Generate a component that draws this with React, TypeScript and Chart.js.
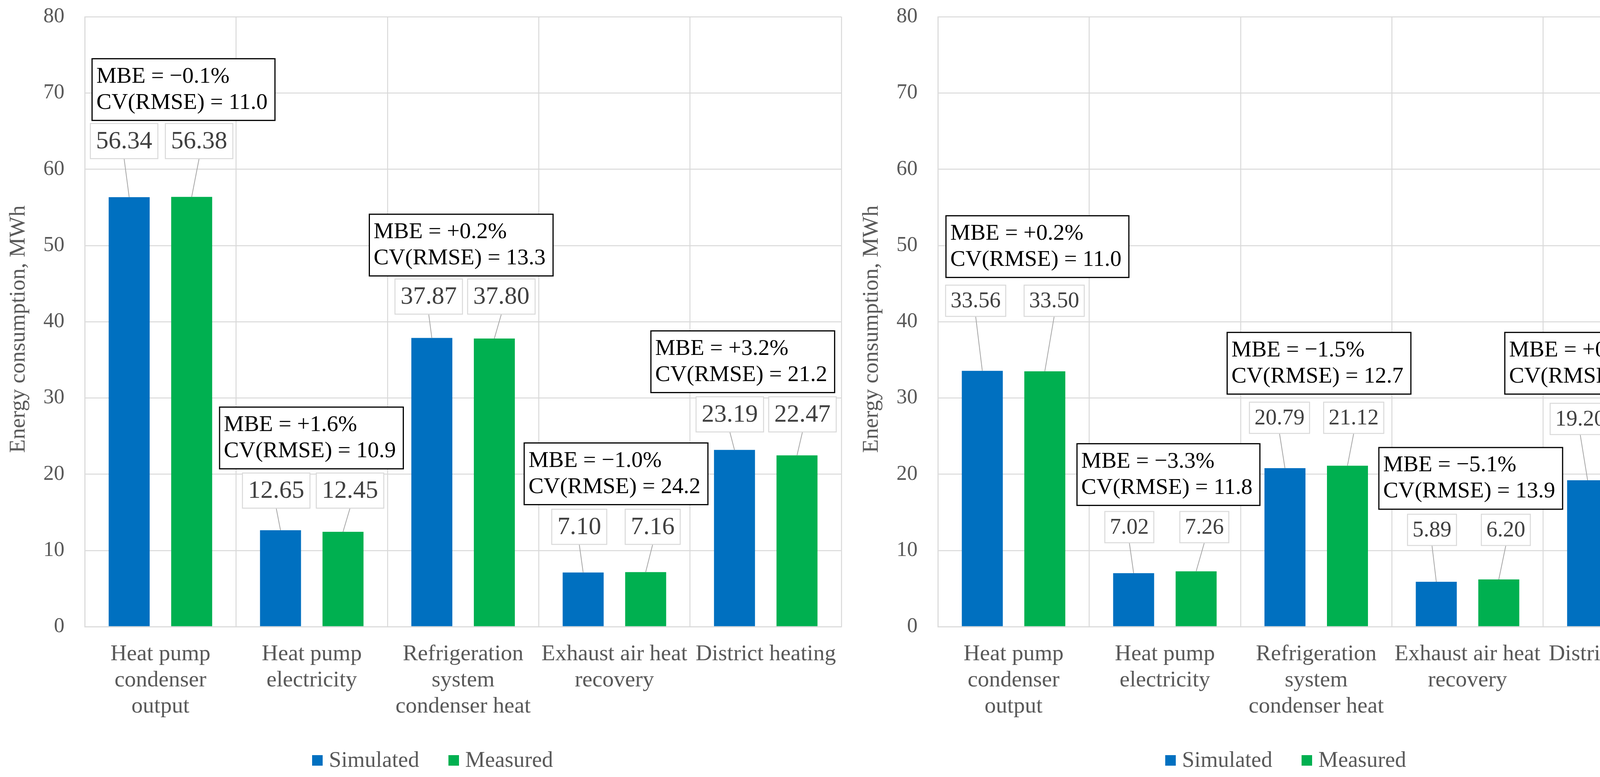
import React, { useEffect, useRef } from "react";
import { Chart, registerables } from "chart.js";

Chart.register(...registerables);

// ---------- data ----------
const categories: string[][] = [
  ["Heat pump", "condenser", "output"],
  ["Heat pump", "electricity"],
  ["Refrigeration", "system", "condenser heat"],
  ["Exhaust air heat", "recovery"],
  ["District heating"],
];
const seriesNames = ["Simulated", "Measured"];
const yMin = 0;
const yMax = 80;
const yStep = 10;
const yTitle = "Energy consumption, MWh";

const leftSimulated = [56.34, 12.65, 37.87, 7.1, 23.19];
const leftMeasured = [56.38, 12.45, 37.8, 7.16, 22.47];
const leftMBE = ["\u22120.1%", "+1.6%", "+0.2%", "\u22121.0%", "+3.2%"];
const leftCV = ["11.0", "10.9", "13.3", "24.2", "21.2"];

const rightSimulated = [33.56, 7.02, 20.79, 5.89, 19.2];
const rightMeasured = [33.5, 7.26, 21.12, 6.2, 19.09];
const rightMBE = ["+0.2%", "\u22123.3%", "\u22121.5%", "\u22125.1%", "+0.6%"];
const rightCV = ["11.0", "11.8", "12.7", "13.9", "18.2"];

// ---------- annotation placement (value units for y, px offsets for x) ----------
const leftLabelY = [63.7, 17.85, 43.3, 13.1, 27.85];
const leftLabelDx = [[-13, 19], [-11, 18], [-8, 18], [-10, 18], [-12, 14]];
const leftMbeTop = [74.5, 28.8, 54.1, 24.1, 38.8];
const leftMbeDx = [-175, -236, -240, -231, -294];

const rightLabelY = [42.75, 13.06, 27.4, 12.7, 27.25];
const rightLabelDx = [[-17, 24], [-11, 21], [-14, 16], [-11, 18], [-19, 17]];
const rightMbeTop = [53.9, 24.0, 38.6, 23.5, 38.6];
const rightMbeDx = [-173, -225, -228, -227, -292];

const FONT = '"Liberation Serif", "Times New Roman", serif';
const BLUE = "#0070C0";
const GREEN = "#00B050";
const GRID = "#D9D9D9";
const TEXT = "#595959";

type PanelProps = {
  simulated: number[];
  measured: number[];
  mbe: string[];
  cv: string[];
  labelY: number[];
  labelDx: number[][];
  mbeTop: number[];
  mbeDx: number[];
  labelFont: number;
  labelBoxH: number;
};

function ChartPanel(p: PanelProps) {
  const ref = useRef<HTMLCanvasElement | null>(null);
  useEffect(() => {
    if (!ref.current) return;
    const annotPlugin = {
      id: "annot",
      afterDatasetsDraw(chart: any) {
        const ctx = chart.ctx;
        const yS = chart.scales.y;
        const metas = [chart.getDatasetMeta(0), chart.getDatasetMeta(1)];
        const values = [p.simulated, p.measured];
        ctx.save();
        // data labels
        for (let s = 0; s < 2; s++) {
          for (let i = 0; i < values[s].length; i++) {
            const bar = metas[s].data[i];
            const txt = values[s][i].toFixed(2);
            ctx.font = `${p.labelFont}px ${FONT}`;
            const w = ctx.measureText(txt).width + p.labelFont * 0.45;
            const h = p.labelBoxH;
            const cx = bar.x + p.labelDx[i][s];
            const cy = yS.getPixelForValue(p.labelY[i]);
            // leader line
            ctx.strokeStyle = "#A6A6A6";
            ctx.lineWidth = 2;
            ctx.beginPath();
            ctx.moveTo(cx, cy + h / 2);
            ctx.lineTo(bar.x, bar.y);
            ctx.stroke();
            ctx.fillStyle = "#FFFFFF";
            ctx.fillRect(cx - w / 2, cy - h / 2, w, h);
            ctx.strokeStyle = GRID;
            ctx.lineWidth = 2.5;
            ctx.strokeRect(cx - w / 2, cy - h / 2, w, h);
            ctx.fillStyle = "#404040";
            ctx.textAlign = "center";
            ctx.textBaseline = "middle";
            ctx.fillText(txt, cx, cy + 2);
          }
        }
        // MBE boxes
        const xS = chart.scales.x;
        for (let i = 0; i < p.mbe.length; i++) {
          const cx = xS.getPixelForValue(i);
          const left = cx + p.mbeDx[i];
          const top = yS.getPixelForValue(p.mbeTop[i]);
          ctx.font = `58px ${FONT}`;
          const l1 = `MBE = ${p.mbe[i]}`;
          const l2 = `CV(RMSE) = ${p.cv[i]}`;
          const w = Math.max(ctx.measureText(l1).width, ctx.measureText(l2).width) + 30;
          const h = 158;
          ctx.fillStyle = "#FFFFFF";
          ctx.fillRect(left, top, w, h);
          ctx.strokeStyle = "#000000";
          ctx.lineWidth = 3;
          ctx.strokeRect(left, top, w, h);
          ctx.fillStyle = "#000000";
          ctx.textAlign = "left";
          ctx.textBaseline = "middle";
          ctx.fillText(l1, left + 11, top + 46);
          ctx.fillText(l2, left + 11, top + 113);
        }
        ctx.restore();
      },
      afterDraw(chart: any) {
        const ctx = chart.ctx;
        const area = chart.chartArea;
        ctx.save();
        // y-axis title
        ctx.font = `57px ${FONT}`;
        ctx.fillStyle = TEXT;
        ctx.textAlign = "center";
        ctx.textBaseline = "middle";
        ctx.translate(48, (area.top + area.bottom) / 2 + 19);
        ctx.rotate(-Math.PI / 2);
        ctx.fillText(yTitle, 0, 0);
        ctx.restore();
        // legend
        ctx.save();
        ctx.font = `57px ${FONT}`;
        ctx.textBaseline = "middle";
        ctx.textAlign = "left";
        const ly = 1947;
        const colors = [BLUE, GREEN];
        const boxX = [799, 1148];
        for (let s = 0; s < 2; s++) {
          ctx.fillStyle = colors[s];
          ctx.fillRect(boxX[s], ly - 13, 27, 27);
          ctx.fillStyle = TEXT;
          ctx.fillText(seriesNames[s], boxX[s] + 43, ly + 2);
        }
        ctx.restore();
      },
    };

    const chart = new Chart(ref.current, {
      type: "bar",
      data: {
        labels: categories,
        datasets: [
          { label: seriesNames[0], data: p.simulated, backgroundColor: BLUE, categoryPercentage: 0.826, barPercentage: 0.656 },
          { label: seriesNames[1], data: p.measured, backgroundColor: GREEN, categoryPercentage: 0.826, barPercentage: 0.656 },
        ],
      },
      options: {
        responsive: false,
        animation: false,
        devicePixelRatio: 1,
        layout: { padding: { top: 43, right: 30, left: 0, bottom: 0 } },
        plugins: { legend: { display: false }, tooltip: { enabled: false }, title: { display: false } },
        scales: {
          x: {
            afterFit(scale: any) {
              scale.height = 385;
              scale.paddingLeft = 0;
              scale.paddingRight = 0;
            },
            grid: { color: GRID, lineWidth: 2.5, offset: true, drawTicks: false },
            border: { color: GRID, width: 2.5 },
            ticks: {
              color: TEXT,
              font: { family: FONT, size: 58, lineHeight: 1.16 },
              padding: 37,
              maxRotation: 0,
              autoSkip: false,
            },
          },
          y: {
            min: yMin,
            max: yMax,
            afterFit(scale: any) {
              scale.width = 217;
              scale.paddingTop = 0;
              scale.paddingBottom = 0;
            },
            grid: { color: GRID, lineWidth: 2.5, drawTicks: false },
            border: { color: GRID, width: 2.5 },
            ticks: {
              stepSize: yStep,
              color: TEXT,
              font: { family: FONT, size: 54 },
              padding: 52,
            },
          },
        },
      },
      plugins: [annotPlugin],
    } as any);
    return () => chart.destroy();
  }, []);
  return <canvas ref={ref} width={2184} height={1990} style={{ width: 2184, height: 1990, display: "block" }} />;
}

export default function App() {
  return (
    <div style={{ position: "fixed", left: 0, top: 0, width: 4368, height: 1990, display: "flex", background: "#FFFFFF" }}>
      <ChartPanel
        simulated={leftSimulated}
        measured={leftMeasured}
        mbe={leftMBE}
        cv={leftCV}
        labelY={leftLabelY}
        labelDx={leftLabelDx}
        mbeTop={leftMbeTop}
        mbeDx={leftMbeDx}
        labelFont={64}
        labelBoxH={90}
      />
      <ChartPanel
        simulated={rightSimulated}
        measured={rightMeasured}
        mbe={rightMBE}
        cv={rightCV}
        labelY={rightLabelY}
        labelDx={rightLabelDx}
        mbeTop={rightMbeTop}
        mbeDx={rightMbeDx}
        labelFont={57}
        labelBoxH={80}
      />
    </div>
  );
}
